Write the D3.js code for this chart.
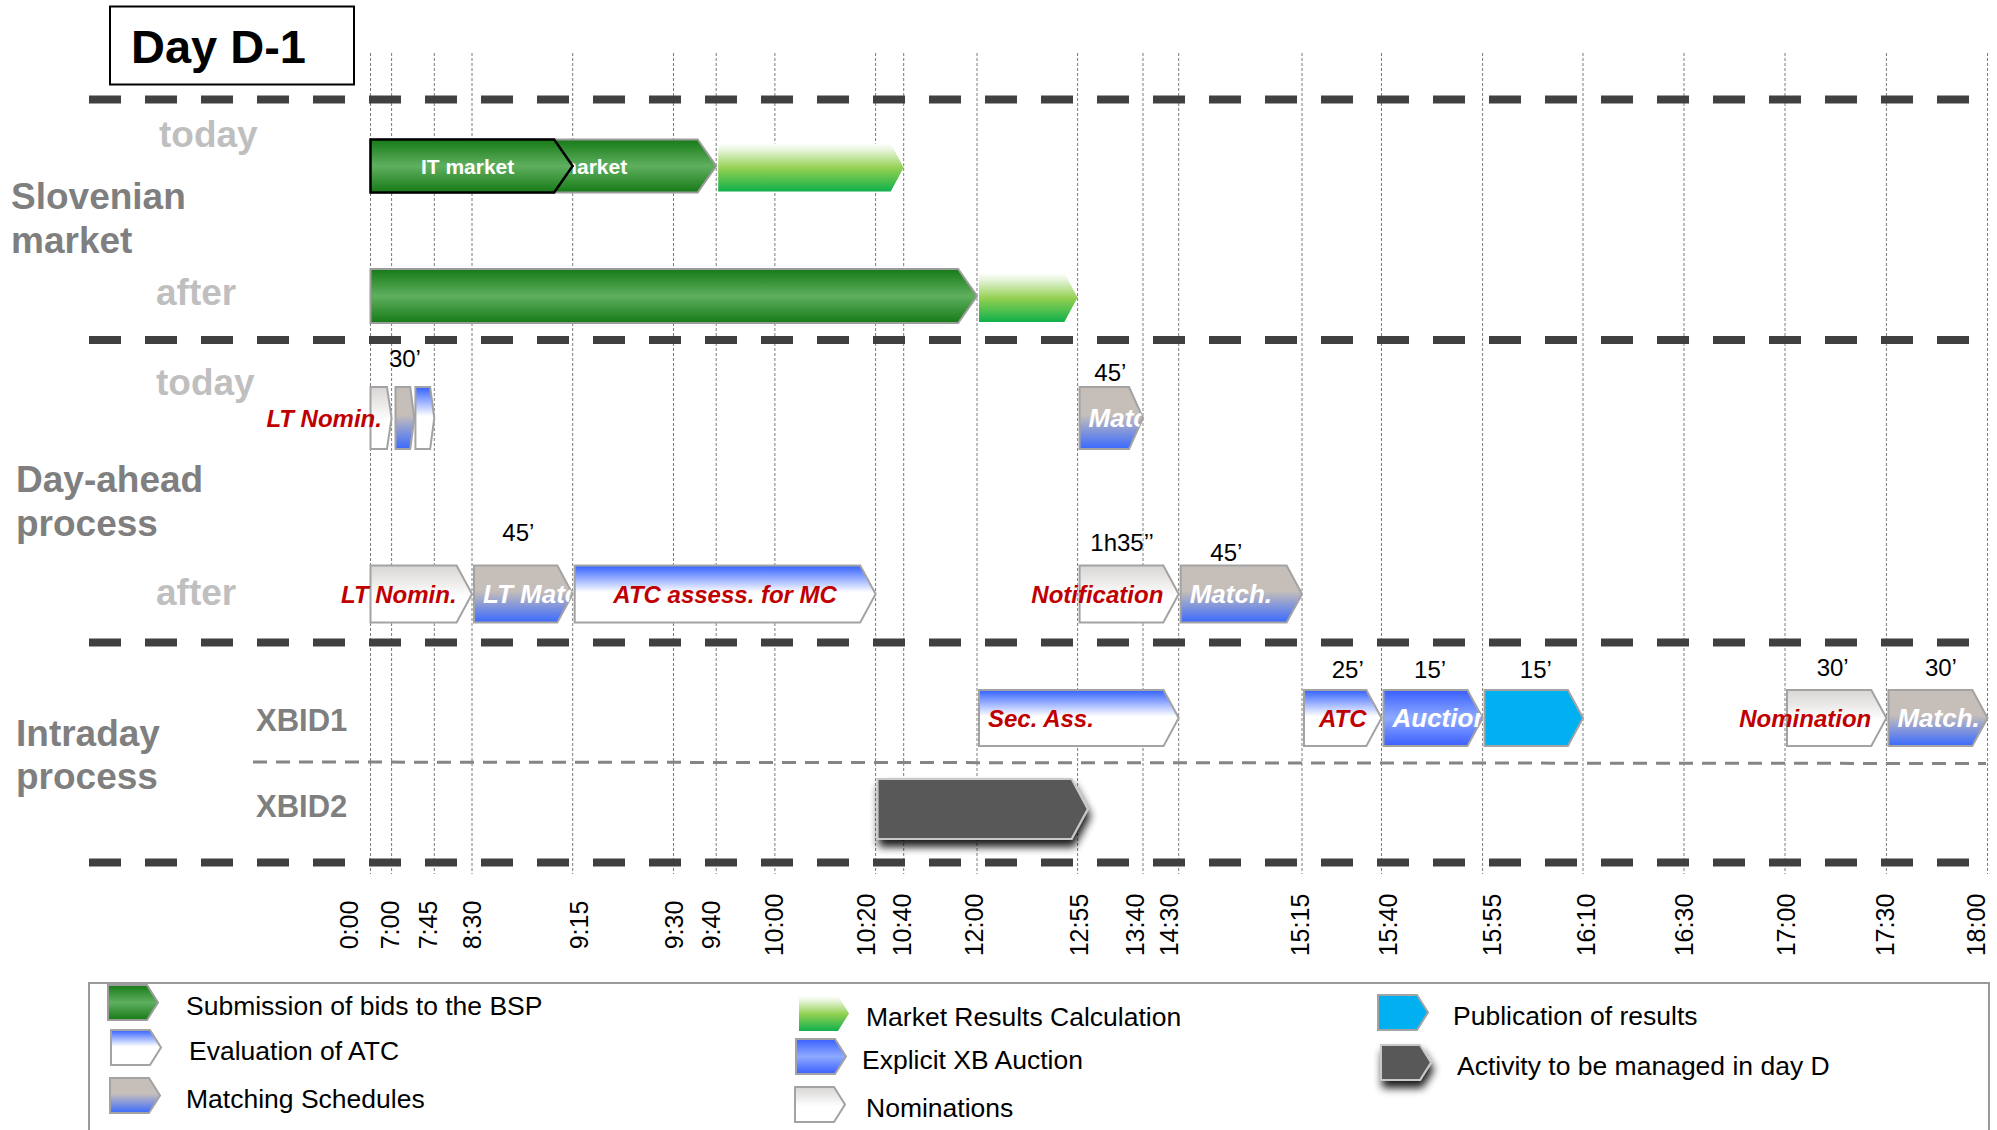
<!DOCTYPE html>
<html>
<head>
<meta charset="utf-8">
<script src="https://cdn.jsdelivr.net/npm/d3@7"></script>
<style>
  html, body { margin: 0; padding: 0; background: #ffffff; }
  svg { display: block; font-family: "Liberation Sans", Arial, Helvetica, sans-serif; }
</style>
</head>
<body>
<svg id="chart" width="1997" height="1130"></svg>
<script>
// ---------------- data ----------------
const tickLabels = ["0:00", "7:00", "7:45", "8:30", "9:15", "9:30", "9:40", "10:00", "10:20", "10:40",
  "12:00", "12:55", "13:40", "14:30", "15:15", "15:40", "15:55", "16:10", "16:30", "17:00", "17:30", "18:00"];

const rowNames = ["siToday", "siAfter", "daToday", "daAfter", "xbid1", "xbid2"];

const sloveniaBars = [
  { row: "siToday", kind: "submission", from: "0:00", to: "9:40", label: "SI market" },
  { row: "siToday", kind: "submission", from: "0:00", to: "9:15", label: "IT market" },
  { row: "siToday", kind: "results", from: "9:40", to: "10:40", label: "" },
  { row: "siAfter", kind: "submission", from: "0:00", to: "12:00", label: "" },
  { row: "siAfter", kind: "results", from: "12:00", to: "12:55", label: "" }
];

const dayAheadBars = [
  { row: "daToday", kind: "nomination", from: "0:00", to: "7:00", label: "LT Nomin." },
  { row: "daToday", kind: "matching", from: "7:02", to: "7:24", label: "" },
  { row: "daToday", kind: "atc", from: "7:23", to: "7:45", label: "" },
  { row: "daToday", kind: "matching", from: "12:55", to: "13:40", label: "Match." },
  { row: "daAfter", kind: "nomination", from: "0:00", to: "8:30", label: "LT Nomin." },
  { row: "daAfter", kind: "matching", from: "8:30", to: "9:15", label: "LT Match." },
  { row: "daAfter", kind: "atc", from: "9:15", to: "10:20", label: "ATC assess. for MC" },
  { row: "daAfter", kind: "nomination", from: "12:55", to: "14:30", label: "Notification" },
  { row: "daAfter", kind: "matching", from: "14:30", to: "15:15", label: "Match." }
];

const intradayBars = [
  { row: "xbid1", kind: "atc", from: "12:00", to: "14:30", label: "Sec. Ass." },
  { row: "xbid1", kind: "atc", from: "15:15", to: "15:40", label: "ATC" },
  { row: "xbid1", kind: "auction", from: "15:40", to: "15:55", label: "Auction" },
  { row: "xbid1", kind: "publication", from: "15:55", to: "16:10", label: "" },
  { row: "xbid1", kind: "nomination", from: "17:00", to: "17:30", label: "Nomination" },
  { row: "xbid1", kind: "matching", from: "17:30", to: "18:00", label: "Match." },
  { row: "xbid2", kind: "dayD", from: "10:20", to: "13:02", label: "" }
];

const durationLabels = [
  { row: "daToday", from: "7:00", to: "7:45", text: "30\u2019" },
  { row: "daToday", from: "12:55", to: "13:40", text: "45\u2019" },
  { row: "daAfter", from: "8:30", to: "9:15", text: "45\u2019" },
  { row: "daAfter", from: "12:55", to: "14:30", text: "1h35\u2019\u2019" },
  { row: "daAfter", from: "14:30", to: "15:15", text: "45\u2019" },
  { row: "xbid1", from: "15:15", to: "15:40", text: "25\u2019" },
  { row: "xbid1", from: "15:40", to: "15:55", text: "15\u2019" },
  { row: "xbid1", from: "15:55", to: "16:10", text: "15\u2019" },
  { row: "xbid1", from: "17:00", to: "17:30", text: "30\u2019" },
  { row: "xbid1", from: "17:30", to: "18:00", text: "30\u2019" }
];

const sectionTitles = [
  { lines: ["Slovenian", "market"] },
  { lines: ["Day-ahead", "process"] },
  { lines: ["Intraday", "process"] }
];
const rowTitles = [
  { text: "today", row: "siToday" }, { text: "after", row: "siAfter" },
  { text: "today", row: "daToday" }, { text: "after", row: "daAfter" },
  { text: "XBID1", row: "xbid1" }, { text: "XBID2", row: "xbid2" }
];

const legendItems = [
  { kind: "submission", text: "Submission of bids to the BSP" },
  { kind: "atc", text: "Evaluation of ATC" },
  { kind: "matching", text: "Matching Schedules" },
  { kind: "results", text: "Market Results Calculation" },
  { kind: "auction", text: "Explicit XB Auction" },
  { kind: "nomination", text: "Nominations" },
  { kind: "publication", text: "Publication of results" },
  { kind: "dayD", text: "Activity to be managed in day D" }
];

// ---------------- layout ----------------
// the time axis is hand-spaced, so the scale is piecewise between tick stops
const axisStops = [370.5, 391.6, 434.3, 472, 572.7, 673.5, 716.2, 774.9, 875.6, 903.7,
  977, 1077.6, 1143, 1178.7, 1302, 1381.5, 1482.6, 1583, 1684, 1785, 1886.4, 1987.5];
const tickNudge = [-22, -2, -7, 0, 6, 0, -5, -1, -10, -2, -3, 1, -8, -10, -2, 6, 9, 3, 0, 1, -2, -12];
const rowCenter = { siToday: 166, siAfter: 296, daToday: 418, daAfter: 594, xbid1: 718, xbid2: 809 };
const rowHeight = { siToday: 53, siAfter: 54, daToday: 62, daAfter: 57, xbid1: 56, xbid2: 60 };
const rowTitleX = { siToday: 159, siAfter: 156, daToday: 156, daAfter: 156, xbid1: 256, xbid2: 256 };
const rowTitleBaseline = { siToday: 147, siAfter: 305, daToday: 395, daAfter: 605, xbid1: 731, xbid2: 817 };
const sectionBaselines = [[209, 253], [492, 536], [746, 789]];
const separatorY = [99.5, 340, 642.5, 862.5];
const durationNudge = [
  { dx: -8, lift: 20 }, { dx: 0, lift: 6 }, { dx: -4, lift: 25 }, { dx: -6, lift: 15 }, { dx: -14, lift: 5 },
  { dx: 6, lift: 12 }, { dx: -2, lift: 12 }, { dx: 3, lift: 12 }, { dx: -3, lift: 14 }, { dx: 4, lift: 14 }
];
const legendSlots = [
  { x: 108, y: 985, tx: 186 }, { x: 111, y: 1030, tx: 189 }, { x: 110, y: 1078, tx: 186 },
  { x: 799, y: 996, tx: 866 }, { x: 796, y: 1039, tx: 862 }, { x: 795, y: 1087, tx: 866 },
  { x: 1378, y: 995, tx: 1453 }, { x: 1381, y: 1045, tx: 1457 }
];

// ---------------- styles ----------------
const FONT = "'Liberation Sans', Arial, Helvetica, sans-serif";
const RED = "#c00000";
const gradientStops = {
  submission: [[0, "#167a16"], [0.5, "#5faf5f"], [1, "#167a16"]],
  results: [[0, "#ffffff"], [0.12, "#eaf6e0"], [0.52, "#92d050"], [1, "#0fb04c"]],
  atc: [[0, "#3361ff"], [0.47, "#ffffff"], [1, "#ffffff"]],
  auction: [[0, "#3a5fff"], [0.5, "#8eaaff"], [1, "#3a5fff"]],
  matching: [[0, "#c5beb9"], [0.45, "#c5beb9"], [1, "#3a6aff"]],
  nomination: [[0, "#d8d5d3"], [0.55, "#ffffff"], [1, "#ffffff"]]
};
const solidFill = { publication: "#00b0f0", dayD: "#595959" };
const strokeOf = { submission: "#9c9c9c", results: "none", atc: "#a3a3a3", auction: "#a3a3a3",
  matching: "#a3a3a3", nomination: "#a3a3a3", publication: "#a3a3a3", dayD: "#c9c9c9" };
const fillOf = k => solidFill[k] || `url(#grad-${k})`;

// ---------------- helpers ----------------
const toMinutes = s => { const [h, m] = s.split(":").map(Number); return h * 60 + m; };
const tickMinutes = tickLabels.map(toMinutes);
const x = d3.scaleLinear().domain(tickMinutes).range(axisStops);

function arrowPath(x0, x1, yTop, h, tip) {
  const yc = yTop + h / 2;
  return `M${x0},${yTop}H${x1 - tip}L${x1},${yc}L${x1 - tip},${yTop + h}H${x0}Z`;
}

const svg = d3.select("#chart");
const defs = svg.append("defs");

Object.entries(gradientStops).forEach(([k, stops]) => {
  const g = defs.append("linearGradient").attr("id", `grad-${k}`)
    .attr("x1", 0).attr("y1", 0).attr("x2", 0).attr("y2", 1);
  stops.forEach(([o, c]) => g.append("stop").attr("offset", o).attr("stop-color", c));
});

const shadow = defs.append("filter").attr("id", "drop").attr("x", "-20%").attr("y", "-30%")
  .attr("width", "150%").attr("height", "180%");
shadow.append("feGaussianBlur").attr("in", "SourceAlpha").attr("stdDeviation", 4).attr("result", "b");
shadow.append("feOffset").attr("in", "b").attr("dx", 2).attr("dy", 7).attr("result", "o");
shadow.append("feComponentTransfer").attr("in", "o").attr("result", "s")
  .append("feFuncA").attr("type", "linear").attr("slope", 0.9);
const merge = shadow.append("feMerge");
merge.append("feMergeNode").attr("in", "s");
merge.append("feMergeNode").attr("in", "SourceGraphic");

// ---------------- title box ----------------
svg.append("rect").attr("x", 110).attr("y", 6.5).attr("width", 244).attr("height", 78)
  .attr("fill", "#fff").attr("stroke", "#000").attr("stroke-width", 2);
svg.append("text").attr("x", 131).attr("y", 63).attr("font-family", FONT)
  .attr("font-size", 47).attr("font-weight", "bold").attr("fill", "#000").text("Day D-1");

// ---------------- grid ----------------
svg.append("g").attr("class", "grid").selectAll("line").data(tickMinutes).join("line")
  .attr("x1", d => x(d)).attr("x2", d => x(d)).attr("y1", 53).attr("y2", 874)
  .attr("stroke", "#7a7a7a").attr("stroke-width", 1).attr("stroke-dasharray", "3,2");

// section separators
svg.append("g").selectAll("line").data(separatorY).join("line")
  .attr("x1", 89).attr("x2", 1972).attr("y1", d => d).attr("y2", d => d)
  .attr("stroke", "#404040").attr("stroke-width", 8).attr("stroke-dasharray", "32,24");

// XBID1 / XBID2 divider
svg.append("line").attr("x1", 253).attr("x2", 1986).attr("y1", 762).attr("y2", 763.5)
  .attr("stroke", "#858585").attr("stroke-width", 3).attr("stroke-dasharray", "14,9");

// ---------------- row and section titles ----------------
svg.append("g").selectAll("text").data(sectionTitles).join("text")
  .attr("font-family", FONT).attr("font-size", 37).attr("font-weight", "bold").attr("fill", "#7f7f7f")
  .each(function (d, i) {
    d3.select(this).selectAll("tspan").data(d.lines).join("tspan")
      .attr("x", i === 0 ? 11 : 16).attr("y", (l, j) => sectionBaselines[i][j]).text(l => l);
  });

svg.append("g").selectAll("text").data(rowTitles).join("text")
  .attr("font-family", FONT).attr("font-weight", "bold")
  .attr("font-size", d => d.row.startsWith("xbid") ? 31 : 37)
  .attr("fill", d => d.row.startsWith("xbid") ? "#7f7f7f" : "#bfbfbf")
  .attr("x", d => rowTitleX[d.row]).attr("y", d => rowTitleBaseline[d.row]).text(d => d.text);

// ---------------- activity arrows ----------------
const allBars = [...sloveniaBars, ...dayAheadBars, ...intradayBars];
const barsG = svg.append("g").attr("class", "bars");

allBars.forEach((b, i) => {
  const start = toMinutes(b.from), end = toMinutes(b.to);
  const h0 = rowHeight[b.row];
  const h = b.kind === "results" ? h0 - 5 : h0;
  const yTop = rowCenter[b.row] - h0 / 2 + (b.kind === "results" ? 4 : 0);
  const x0 = x(start) + (start === 0 ? 0 : 2);
  const x1 = x(end);
  const tip = b.kind === "submission" ? Math.min(h * 0.35, (x1 - x0) * 0.3)
    : Math.min(h * 0.27, (x1 - x0) * 0.22);
  const d = arrowPath(x0, x1, yTop, h, tip);
  const isIT = b.label === "IT market";

  barsG.append("path").attr("d", d)
    .attr("fill", fillOf(b.kind))
    .attr("stroke", isIT ? "#000" : strokeOf[b.kind])
    .attr("stroke-width", isIT ? 2.5 : 2)
    .attr("stroke-linejoin", "miter")
    .attr("filter", b.kind === "dayD" ? "url(#drop)" : null);

  if (!b.label) return;
  const yc = yTop + h / 2;
  const t = barsG.append("text").attr("font-family", FONT).attr("font-weight", "bold")
    .attr("dominant-baseline", "central").attr("y", yc).text(b.label);

  if (b.kind === "submission") {
    t.attr("font-size", 21).attr("fill", "#fff");
    if (isIT) t.attr("x", (x0 + x1) / 2 - 4).attr("text-anchor", "middle");
    else t.attr("x", x1 - 89).attr("text-anchor", "end");
  } else if (b.kind === "nomination") {
    t.attr("font-size", 24).attr("font-style", "italic").attr("fill", RED)
      .attr("x", x1 - tip - (b.row === "daToday" ? 5 : 0)).attr("text-anchor", "end");
  } else if (b.kind === "atc") {
    t.attr("font-size", 24).attr("font-style", "italic").attr("fill", RED);
    if (b.label === "Sec. Ass.") t.attr("x", x0 + 9).attr("text-anchor", "start");
    else t.attr("x", (x0 + x1) / 2).attr("text-anchor", "middle");
  } else {
    // white labels are clipped to their own arrow
    const cid = `clip-${i}`;
    defs.append("clipPath").attr("id", cid).append("path").attr("d", d);
    t.attr("font-size", 26).attr("font-style", "italic").attr("fill", "#fff")
      .attr("x", x0 + 9).attr("text-anchor", "start").attr("clip-path", `url(#${cid})`);
  }
});

// duration annotations
svg.append("g").selectAll("text").data(durationLabels).join("text")
  .attr("font-family", FONT).attr("font-size", 24).attr("fill", "#000").attr("text-anchor", "middle")
  .attr("x", (d, i) => (x(toMinutes(d.from)) + x(toMinutes(d.to))) / 2 + durationNudge[i].dx)
  .attr("y", (d, i) => rowCenter[d.row] - rowHeight[d.row] / 2 - durationNudge[i].lift)
  .text(d => d.text);

// ---------------- time axis ----------------
const axis = d3.axisBottom(x).tickValues(tickMinutes).tickFormat((d, i) => tickLabels[i]).tickSize(0);
const axisG = svg.append("g").attr("class", "time-axis").call(axis)
  .attr("font-family", FONT).attr("font-size", 25);
axisG.select(".domain").remove();
axisG.selectAll(".tick text")
  .attr("y", 0).attr("dy", "0.35em").attr("fill", "#000")
  .attr("text-anchor", "middle")
  .attr("transform", (d, i) => `translate(${tickNudge[i]},925) rotate(-90)`);

// ---------------- legend ----------------
svg.append("path").attr("d", "M89,1140V983H1989V1140")
  .attr("fill", "none").attr("stroke", "#9a9a9a").attr("stroke-width", 2);

const legendG = svg.append("g").attr("class", "legend");
legendItems.forEach((item, i) => {
  const s = legendSlots[i];
  const w = 50, h = 35;
  legendG.append("path").attr("d", arrowPath(s.x, s.x + w, s.y, h, 11))
    .attr("fill", fillOf(item.kind))
    .attr("stroke", strokeOf[item.kind]).attr("stroke-width", 2)
    .attr("filter", item.kind === "dayD" ? "url(#drop)" : null);
  legendG.append("text").attr("x", s.tx).attr("y", s.y + h / 2 + 3)
    .attr("dominant-baseline", "central").attr("font-family", FONT)
    .attr("font-size", 26.5).attr("fill", "#000").text(item.text);
});
</script>
</body>
</html>
